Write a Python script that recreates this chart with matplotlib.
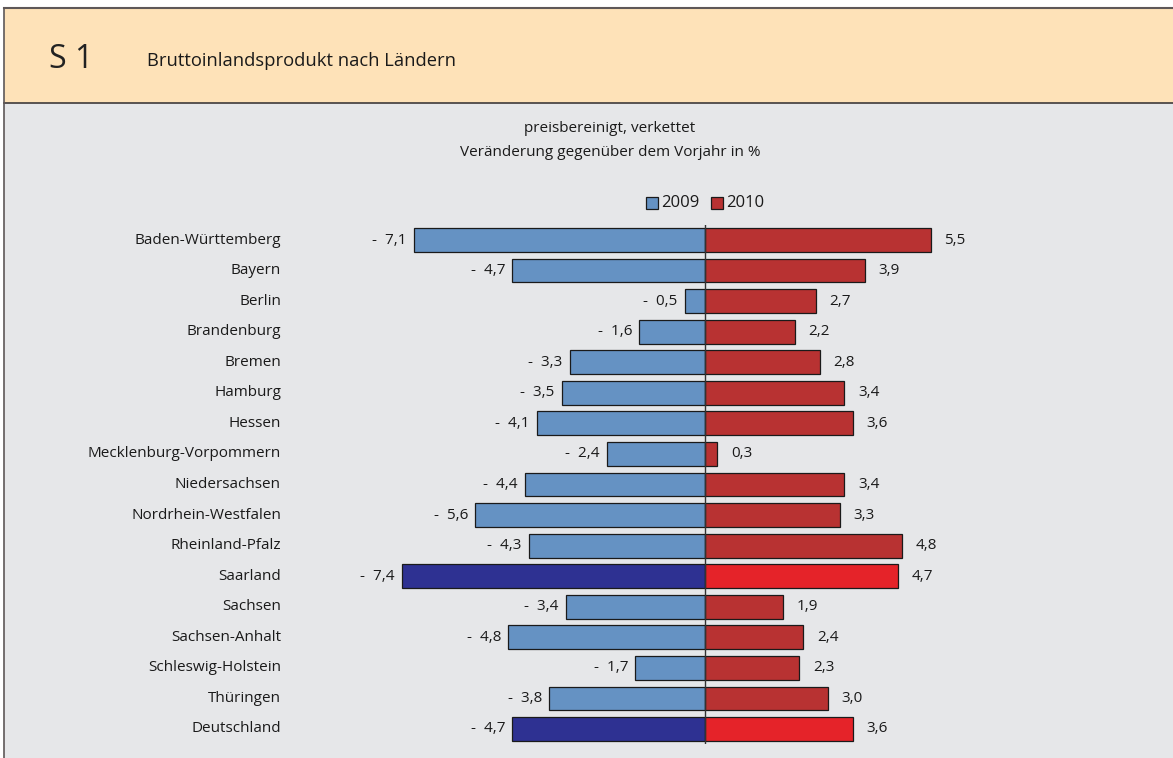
import matplotlib
matplotlib.use("Agg")
import matplotlib.pyplot as plt
from matplotlib.patches import Rectangle

plt.rcParams['font.family'] = ['Open Sans', 'DejaVu Sans']

laender = ['Baden-Württemberg', 'Bayern', 'Berlin', 'Brandenburg', 'Bremen',
           'Hamburg', 'Hessen', 'Mecklenburg-Vorpommern', 'Niedersachsen',
           'Nordrhein-Westfalen', 'Rheinland-Pfalz', 'Saarland', 'Sachsen',
           'Sachsen-Anhalt', 'Schleswig-Holstein', 'Thüringen', 'Deutschland']
werte_2009 = [-7.1, -4.7, -0.5, -1.6, -3.3, -3.5, -4.1, -2.4, -4.4, -5.6,
              -4.3, -7.4, -3.4, -4.8, -1.7, -3.8, -4.7]
werte_2010 = [5.5, 3.9, 2.7, 2.2, 2.8, 3.4, 3.6, 0.3, 3.4, 3.3,
              4.8, 4.7, 1.9, 2.4, 2.3, 3.0, 3.6]
hervorgehoben = ['Saarland', 'Deutschland']

W, H = 1173, 758
fig = plt.figure(figsize=(W / 100, H / 100), dpi=100)

# background panels
fig.patches.append(Rectangle((4 / W, 0), 1, (H - 103) / H, transform=fig.transFigure,
                             facecolor='#e6e7e9', edgecolor='none', zorder=-10))
fig.patches.append(Rectangle((4 / W, (H - 103) / H), 1, 95 / H, transform=fig.transFigure,
                             facecolor='#fee2b8', edgecolor='none', zorder=-10))
fig.add_artist(plt.Line2D([4 / W, 1], [(H - 7.5) / H] * 2, transform=fig.transFigure,
                          color='#5e5858', lw=1.5))
fig.add_artist(plt.Line2D([4 / W, 1], [(H - 103) / H] * 2, transform=fig.transFigure,
                          color='#3f3a3a', lw=1.2))
fig.add_artist(plt.Line2D([4 / W] * 2, [0, (H - 7.5) / H], transform=fig.transFigure,
                          color='#5e5858', lw=1.2))

fig.text(49 / W, 1 - 59 / H, 'S 1', fontsize=23, color='#222222', va='center')
fig.text(147 / W, 1 - 61 / H, 'Bruttoinlandsprodukt nach Ländern', fontsize=13.2,
         color='#1a1a1a', va='center')
fig.text(610 / W, 1 - 129 / H, 'preisbereinigt, verkettet', fontsize=11,
         color='#1a1a1a', ha='center', va='center')
fig.text(610 / W, 1 - 152 / H, 'Veränderung gegenüber dem Vorjahr in %', fontsize=11,
         color='#1a1a1a', ha='center', va='center')

# axes: zero at x=705, 41 px per unit
x0, ppu = 705, 41
xmin, xmax = -10, 10.5
left = x0 + xmin * ppu
right = x0 + xmax * ppu
top_px, bot_px = 240 - 15.28, 729 + 15.28
ax = fig.add_axes([left / W, 1 - bot_px / H, (right - left) / W, (bot_px - top_px) / H])
ax.set_xlim(xmin, xmax)
ax.set_ylim(len(laender) - 0.5, -0.5)
ax.axis('off')

for i, name in enumerate(laender):
    hl = name in hervorgehoben
    c09 = '#2e3192' if hl else '#6592c3'
    c10 = '#e52329' if hl else '#b83232'
    ax.barh(i, werte_2009[i], height=0.78, color=c09, edgecolor='#1a1a1a', lw=0.9)
    ax.barh(i, werte_2010[i], height=0.78, color=c10, edgecolor='#1a1a1a', lw=0.9)
    ax.text(werte_2009[i] - 0.17, i, '-  ' + f'{abs(werte_2009[i]):.1f}'.replace('.', ','),
            ha='right', va='center', fontsize=11, color='#1a1a1a')
    ax.text(werte_2010[i] + 0.33, i, f'{werte_2010[i]:.1f}'.replace('.', ','),
            ha='left', va='center', fontsize=11, color='#1a1a1a')
    ax.text((281 - x0) / ppu, i, name, ha='right', va='center', fontsize=11,
            color='#1a1a1a')

ax.axvline(0, color='#333333', lw=1)

# legend
ly = 1 - 203 / H
fig.patches.append(Rectangle((646 / W, ly - 6 / H), 12 / W, 12 / H, transform=fig.transFigure,
                             facecolor='#6592c3', edgecolor='#1a1a1a', lw=0.9))
fig.text(661 / W, ly, '2009', fontsize=12, color='#1a1a1a', va='center')
fig.patches.append(Rectangle((711 / W, ly - 6 / H), 12 / W, 12 / H, transform=fig.transFigure,
                             facecolor='#b83232', edgecolor='#1a1a1a', lw=0.9))
fig.text(726 / W, ly, '2010', fontsize=12, color='#1a1a1a', va='center')

plt.savefig('out.png', dpi=100, facecolor='white')
